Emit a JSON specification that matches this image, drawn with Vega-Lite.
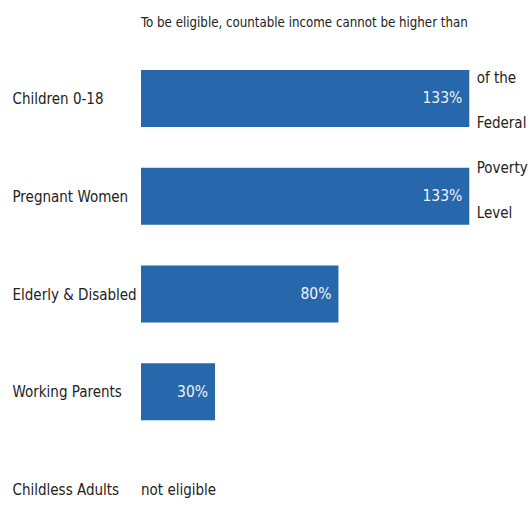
{
  "$schema": "https://vega.github.io/schema/vega-lite/v6.json",
  "width": 390,
  "height": 418,
  "autosize": {"type": "none"},
  "padding": {"left": 141, "top": 85, "right": 0, "bottom": 5},
  "background": "white",
  "config": {
    "view": {"stroke": null},
    "font": "DejaVu Sans Condensed, Roboto, sans-serif"
  },
  "title": {
    "text": "To be eligible, countable income cannot be higher than",
    "anchor": "start",
    "frame": "group",
    "font": "DejaVu Sans Condensed, Roboto, sans-serif",
    "fontSize": 13.2,
    "fontWeight": "normal",
    "color": "#222222",
    "offset": 40
  },
  "datasets": {
    "rows": [
      {"group": "Children 0-18", "pct": 133, "label": "133%"},
      {"group": "Pregnant Women", "pct": 133, "label": "133%"},
      {"group": "Elderly & Disabled", "pct": 80, "label": "80%"},
      {"group": "Working Parents", "pct": 30, "label": "30%"},
      {"group": "Childless Adults", "pct": null, "label": "not eligible"}
    ],
    "note": [
      {"group": "Children 0-18", "pct": 136, "text": ["of the", "Federal", "Poverty", "Level"]}
    ]
  },
  "data": {"name": "rows"},
  "encoding": {
    "y": {
      "field": "group",
      "type": "nominal",
      "sort": ["Children 0-18", "Pregnant Women", "Elderly & Disabled", "Working Parents", "Childless Adults"],
      "scale": {"type": "point", "padding": 0.138},
      "axis": {
        "title": null,
        "domain": false,
        "ticks": false,
        "tickSize": 0,
        "grid": false,
        "labelAlign": "left",
        "labelPadding": 129,
        "labelFontSize": 15,
        "labelColor": "#222222",
        "labelLimit": 200,
        "labelFont": "DejaVu Sans Condensed, Roboto, sans-serif"
      }
    }
  },
  "layer": [
    {
      "transform": [{"filter": "isValid(datum.pct)"}],
      "mark": {"type": "bar", "height": 57, "color": "#2767ab"},
      "encoding": {
        "x": {"field": "pct", "type": "quantitative", "scale": {"domain": [0, 158], "nice": false}, "axis": null}
      }
    },
    {
      "transform": [{"filter": "isValid(datum.pct)"}],
      "mark": {"type": "text", "align": "right", "dx": -7, "baseline": "middle", "fontSize": 15.5, "color": "#eef3fa"},
      "encoding": {
        "x": {"field": "pct", "type": "quantitative"},
        "text": {"field": "label"}
      }
    },
    {
      "transform": [{"filter": "!isValid(datum.pct)"}],
      "mark": {"type": "text", "align": "left", "baseline": "middle", "fontSize": 15, "color": "#222222"},
      "encoding": {
        "x": {"datum": 0, "type": "quantitative"},
        "text": {"field": "label"}
      }
    },
    {
      "data": {"name": "note"},
      "mark": {"type": "text", "align": "left", "baseline": "top", "dy": -27, "lineHeight": 45, "fontSize": 15, "color": "#222222"},
      "encoding": {
        "x": {"field": "pct", "type": "quantitative"},
        "text": {"field": "text"}
      }
    }
  ]
}
